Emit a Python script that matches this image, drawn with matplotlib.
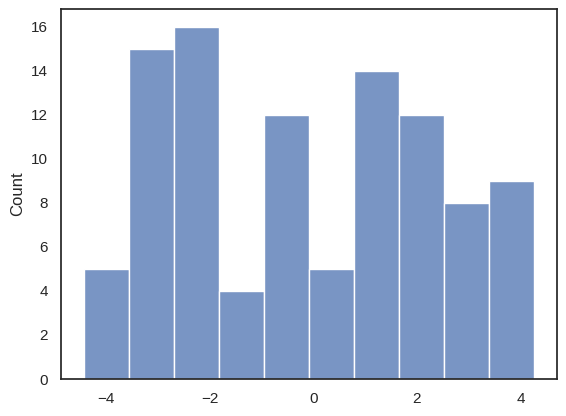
import matplotlib
matplotlib.use("Agg")
import matplotlib.pyplot as plt
import seaborn as sns

# bin edges and counts
bin_edges = [-4.43, -3.56, -2.69, -1.82, -0.95, -0.08, 0.79, 1.66, 2.53, 3.40, 4.27]
counts = [5, 15, 16, 4, 12, 5, 14, 12, 8, 9]
centers = [(bin_edges[i] + bin_edges[i + 1]) / 2 for i in range(len(counts))]

sns.set_theme(style="white")
plt.rcParams["font.family"] = ["Liberation Sans", "DejaVu Sans"]

fig = plt.figure(figsize=(5.66, 4.16), dpi=100)
ax = fig.add_axes([0.1078, 0.0889, 0.8763, 0.8894])

sns.histplot(x=centers, weights=counts, bins=bin_edges, ax=ax)

ax.set_xticks([-4, -2, 0, 2, 4])
ax.set_yticks([0, 2, 4, 6, 8, 10, 12, 14, 16])

fig.savefig("out.png", dpi=100)
